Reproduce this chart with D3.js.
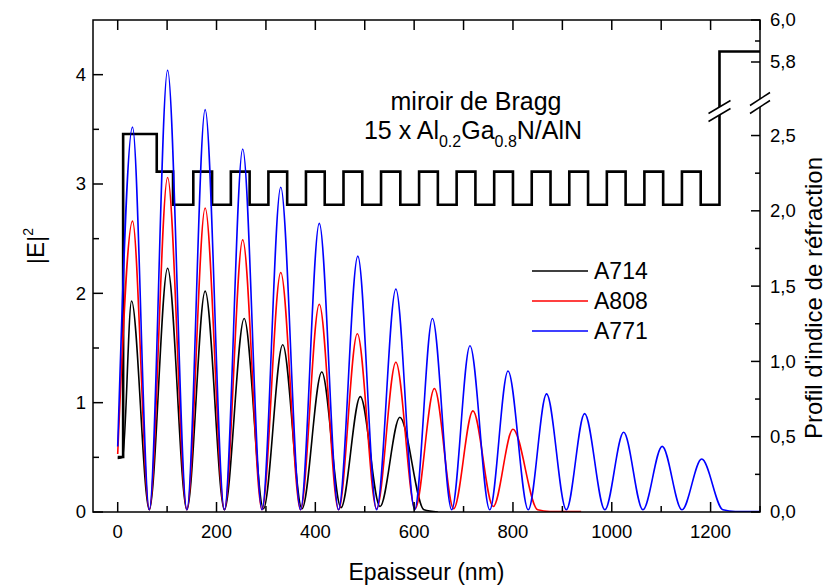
<!DOCTYPE html>
<html><head><meta charset="utf-8">
<script src="https://cdn.jsdelivr.net/npm/d3@7"></script>
<style>
body{margin:0;background:#fff}
svg{display:block;font-family:Arial,"Liberation Sans",sans-serif}
</style>
</head><body>
<svg id="c" width="834" height="588"></svg>
<script>
// ---------- data ----------
const seriesNames = ["A714", "A808", "A771"];
const seriesColors = ["#000000", "#ff0000", "#0000ff"];

const a714X = [0,10,28,64,101,140,177,216,256,295,334,373,413,452,491,531,571,620,648];
const a714Y = [0.49,0.5,1.93,0.02,2.23,0.02,2.02,0.02,1.77,0.03,1.53,0.03,1.28,0.04,1.055,0.05,0.867,0.02,0.0];

const a808X = [0,30,64,101,140,177,216,253,292,330,370,408,447,485,524,563,602,641,680,719,760,800,850,875,938];
const a808Y = [0.53,2.66,0.02,3.06,0.02,2.78,0.02,2.49,0.02,2.19,0.02,1.90,0.02,1.63,0.03,1.37,0.03,1.13,0.03,0.925,0.05,0.757,0.02,0.005,0.005];

const a771X = [0,30,64,101,140,177,216,253,292,330,370,408,447,486,524,563,601,637,676,713,753,790,831,868,908,945,986,1024,1063,1102,1142,1182,1225,1250,1300];
const a771Y = [0.6,3.52,0.02,4.04,0.02,3.68,0.02,3.32,0.02,2.97,0.02,2.64,0.02,2.34,0.02,2.04,0.02,1.77,0.02,1.52,0.02,1.29,0.02,1.08,0.02,0.90,0.02,0.73,0.02,0.60,0.02,0.485,0.02,0.005,0.005];

// refractive index profile: layer boundaries (nm) and index of each layer
const profX = [0,11,79,112,153,
  191,229,267,305,343,381,419,457,495,533,572,610,648,686,
  724,762,800,838,876,914,952,990,1028,1066,1104,1142,1180,1218,
  1300];
const profN = [
  0.365, 2.51, 2.26, 2.04,
  2.26, 2.04,  2.26, 2.04,  2.26, 2.04,  2.26, 2.04,  2.26, 2.04,  2.26, 2.04,  2.26, 2.04,
  2.26, 2.04,  2.26, 2.04,  2.26, 2.04,  2.26, 2.04,  2.26, 2.04,  2.26, 2.04,  2.26, 2.04,
  5.85
];

// ticks
const xTickLabels = [0,200,400,600,800,1000,1200];
const xMinorTicks = [100,300,500,700,900,1100,1300];
const yLeftLabels = [0,1,2,3,4];
const yLeftMinor = [0.5,1.5,2.5,3.5];
const yRightLabels = [0,0.5,1.0,1.5,2.0,2.5];
const yRightMinor = [0.25,0.75,1.25,1.75,2.25];
const yRightUpperLabels = [5.8,6.0];
const yRightUpperMinor = [5.9];

// ---------- layout ----------
const L = 93, R = 760, T = 20, B = 512;
const svg = d3.select("#c");

const x = d3.scaleLinear().domain([-50,1300]).range([L,R]);
const y = d3.scaleLinear().domain([0,4.5]).range([B,T]);
const yR = d3.scaleLinear().domain([0,2.72]).range([B,102.4]);
const yRU = d3.scaleLinear().domain([5.6,6.0]).range([104,20]);
const yRight = n => n > 4 ? yRU(n) : yR(n);

svg.append("defs").append("clipPath").attr("id","clip")
  .append("rect").attr("x",L).attr("y",T).attr("width",R-L).attr("height",B-T);

const g = svg.append("g").attr("clip-path","url(#clip)");

// profile (step line)
const profData = profX.map((px,i)=>({x:px, n: profN[Math.min(i, profN.length-1)]}));
g.append("path")
  .attr("d", d3.line().x(d=>x(d.x)).y(d=>yRight(d.n)).curve(d3.curveStepAfter)(profData))
  .attr("fill","none").attr("stroke","#000").attr("stroke-width",2.6);

// curves
const line = d3.line().x(d=>x(d[0])).y(d=>y(d[1])).curve(d3.curveMonotoneX);
const seriesData = [
  d3.zip(a714X, a714Y),
  d3.zip(a808X, a808Y),
  d3.zip(a771X, a771Y)
];
[0,1,2].forEach(i=>{
  g.append("path").attr("d", line(seriesData[i]))
    .attr("fill","none").attr("stroke",seriesColors[i]).attr("stroke-width",1.6);
});

function breakMark(cx, cy, w) {
  const dx = w/2, dy = 6.5, gap = 4;
  svg.append("path")
    .attr("d", `M${cx-dx},${cy+dy-gap} L${cx+dx},${cy-dy-gap} L${cx+dx},${cy-dy+gap} L${cx-dx},${cy+dy+gap} Z`)
    .attr("fill","#fff").attr("stroke","none");
  svg.append("line").attr("x1",cx-dx).attr("y1",cy+dy-gap).attr("x2",cx+dx).attr("y2",cy-dy-gap)
    .attr("stroke","#000").attr("stroke-width",1.5);
  svg.append("line").attr("x1",cx-dx).attr("y1",cy+dy+gap).attr("x2",cx+dx).attr("y2",cy-dy+gap)
    .attr("stroke","#000").attr("stroke-width",1.5);
}

// ---------- axes ----------
const frame = svg.append("g").attr("stroke","#000").attr("stroke-width",1.5).attr("fill","none");
frame.append("rect").attr("x",L).attr("y",T).attr("width",R-L).attr("height",B-T);

const tk = svg.append("g").attr("stroke","#000").attr("stroke-width",1.5);
xTickLabels.forEach(v=>tk.append("line").attr("x1",x(v)).attr("x2",x(v)).attr("y1",B).attr("y2",B-10));
xMinorTicks.forEach(v=>tk.append("line").attr("x1",x(v)).attr("x2",x(v)).attr("y1",B).attr("y2",B-6));
xTickLabels.concat(xMinorTicks).forEach(v=>tk.append("line").attr("x1",x(v)).attr("x2",x(v)).attr("y1",T).attr("y2",T+10));
yLeftLabels.forEach(v=>tk.append("line").attr("x1",L).attr("x2",L+10).attr("y1",y(v)).attr("y2",y(v)));
yLeftMinor.forEach(v=>tk.append("line").attr("x1",L).attr("x2",L+6).attr("y1",y(v)).attr("y2",y(v)));
yRightLabels.forEach(v=>tk.append("line").attr("x1",R).attr("x2",R-9).attr("y1",yR(v)).attr("y2",yR(v)));
yRightMinor.forEach(v=>tk.append("line").attr("x1",R).attr("x2",R-5).attr("y1",yR(v)).attr("y2",yR(v)));
yRightUpperLabels.forEach(v=>tk.append("line").attr("x1",R).attr("x2",R-9).attr("y1",yRU(v)).attr("y2",yRU(v)));
yRightUpperMinor.forEach(v=>tk.append("line").attr("x1",R).attr("x2",R-5).attr("y1",yRU(v)).attr("y2",yRU(v)));

breakMark(x(1218), 111, 22);
breakMark(R, 103, 20);

const fmt = v => d3.format(".1f")(v).replace(".", ",");
const lab = svg.append("g").attr("fill","#000").attr("font-size",18.5);
xTickLabels.forEach(v=>lab.append("text").attr("x",x(v)).attr("y",538).attr("text-anchor","middle").text(v));
yLeftLabels.forEach(v=>lab.append("text").attr("x",86).attr("y",y(v)).attr("dy","0.35em").attr("text-anchor","end").text(v));
yRightLabels.concat(yRightUpperLabels).forEach(v=>lab.append("text").attr("x",770).attr("y",yRight(v)).attr("dy","0.35em").text(fmt(v)));

// axis titles
svg.append("text").attr("x",(L+R)/2).attr("y",580).attr("text-anchor","middle")
  .attr("font-size",23).text("Epaisseur (nm)");
const yt = svg.append("text").attr("transform","translate(44,246) rotate(-90)")
  .attr("text-anchor","middle").attr("font-size",24);
yt.append("tspan").text("|E|");
yt.append("tspan").attr("font-size",14).attr("dy",-11).text("2");
svg.append("text").attr("transform","translate(822,298) rotate(-90)")
  .attr("text-anchor","middle").attr("font-size",24).text("Profil d'indice de réfraction");

// annotation
svg.append("text").attr("x",476).attr("y",110).attr("text-anchor","middle").attr("font-size",25)
  .text("miroir de Bragg");
const an = svg.append("text").attr("x",473).attr("y",139).attr("text-anchor","middle").attr("font-size",25);
an.append("tspan").text("15 x Al");
an.append("tspan").attr("font-size",16).attr("dy",8).text("0.2");
an.append("tspan").attr("dy",-8).text("Ga");
an.append("tspan").attr("font-size",16).attr("dy",8).text("0.8");
an.append("tspan").attr("dy",-8).text("N/AlN");

// legend
const legY = [271, 301, 331];
seriesNames.forEach((nm,i)=>{
  svg.append("line").attr("x1",532).attr("x2",588).attr("y1",legY[i]).attr("y2",legY[i])
    .attr("stroke",seriesColors[i]).attr("stroke-width",1.6);
  svg.append("text").attr("x",594).attr("y",legY[i]).attr("dy","0.36em").attr("font-size",23).text(nm);
});
</script>
</body></html>
